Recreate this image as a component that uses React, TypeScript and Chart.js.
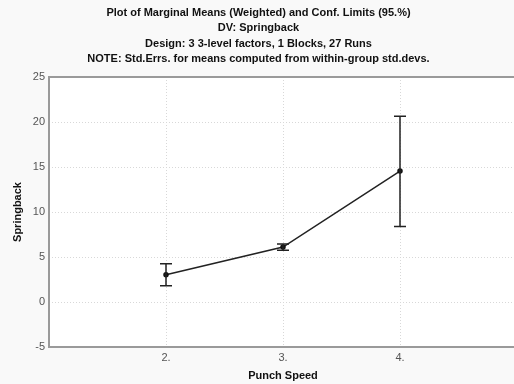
import React, { useEffect, useRef } from "react";
import { Chart, registerables } from "chart.js";

Chart.register(...registerables);

const punchSpeeds = [2, 3, 4];
const tickLabels = ["2.", "3.", "4."];
const means = [3.03, 6.1, 14.55];
const lowerLimits = [1.8, 5.75, 8.4];
const upperLimits = [4.25, 6.45, 20.65];
const titleLines = [
  "Plot of Marginal Means (Weighted) and Conf. Limits (95.%)",
  "DV: Springback",
  "Design: 3 3-level factors, 1 Blocks, 27 Runs",
  "NOTE: Std.Errs. for means computed from within-group std.devs.",
];

const FONT = "'Liberation Sans', Arial, sans-serif";

const framePlugin = {
  id: "frame",
  beforeDraw(chart: any) {
    const { ctx, chartArea, width, height } = chart;
    ctx.save();
    ctx.fillStyle = "#f9f9f9";
    ctx.fillRect(0, 0, width, height);
    ctx.fillStyle = "#ffffff";
    ctx.fillRect(chartArea.left, chartArea.top, chartArea.right - chartArea.left, chartArea.bottom - chartArea.top);
    ctx.restore();
  },
  afterDraw(chart: any) {
    const { ctx, chartArea } = chart;
    ctx.save();
    ctx.strokeStyle = "#9a9a9a";
    ctx.lineWidth = 2;
    ctx.beginPath();
    ctx.moveTo(chartArea.right + 2, chartArea.top);
    ctx.lineTo(chartArea.left, chartArea.top);
    ctx.lineTo(chartArea.left, chartArea.bottom);
    ctx.lineTo(chartArea.right + 2, chartArea.bottom);
    ctx.stroke();
    ctx.restore();
  },
};

const errorBarPlugin = {
  id: "errorBars",
  afterDatasetsDraw(chart: any) {
    const { ctx } = chart;
    const xs = chart.scales.x;
    const ys = chart.scales.y;
    ctx.save();
    ctx.strokeStyle = "#222222";
    ctx.lineWidth = 1.5;
    punchSpeeds.forEach((sp, i) => {
      const x = xs.getPixelForValue(sp);
      const yl = ys.getPixelForValue(lowerLimits[i]);
      const yh = ys.getPixelForValue(upperLimits[i]);
      ctx.beginPath();
      ctx.moveTo(x, yl);
      ctx.lineTo(x, yh);
      ctx.moveTo(x - 6, yl);
      ctx.lineTo(x + 6, yl);
      ctx.moveTo(x - 6, yh);
      ctx.lineTo(x + 6, yh);
      ctx.stroke();
    });
    ctx.restore();
  },
};

export default function App() {
  const ref = useRef<HTMLCanvasElement | null>(null);
  useEffect(() => {
    if (!ref.current) return;
    const chart = new Chart(ref.current, {
      type: "line",
      data: {
        datasets: [
          {
            data: punchSpeeds.map((x, i) => ({ x, y: means[i] })),
            borderColor: "#222222",
            borderWidth: 1.5,
            pointRadius: 2,
            pointBackgroundColor: "#111111",
            pointBorderColor: "#111111",
            tension: 0,
          },
        ],
      },
      options: {
        animation: false,
        responsive: false,
        layout: { padding: { left: 0, right: 9, top: 0, bottom: 0 } },
        plugins: {
          legend: { display: false },
          tooltip: { enabled: false },
          title: {
            display: true,
            text: titleLines,
            color: "#111111",
            font: { family: FONT, size: 11, weight: "bold", lineHeight: "15.5px" },
            padding: { top: 5, bottom: 10 },
          },
        },
        scales: {
          x: {
            type: "linear",
            min: 1,
            max: 5,
            afterBuildTicks: (scale: any) => {
              scale.ticks = punchSpeeds.map((v) => ({ value: v }));
            },
            afterFit: (scale: any) => {
              scale.height = 37;
            },
            ticks: {
              color: "#555555",
              font: { family: FONT, size: 11 },
              padding: 4,
              maxRotation: 0,
              callback: (v: any) => {
                const i = punchSpeeds.indexOf(Number(v));
                return i >= 0 ? tickLabels[i] : "";
              },
            },
            grid: { color: "#d8d8d8", lineWidth: 1, drawTicks: false },
            border: { display: false, dash: [1, 2] },
            title: {
              display: true,
              text: "Punch Speed",
              color: "#111111",
              font: { family: FONT, size: 11, weight: "bold" },
              padding: { top: 0, bottom: 1 },
            },
          },
          y: {
            type: "linear",
            min: -5,
            max: 25,
            afterFit: (scale: any) => {
              scale.width = 49;
            },
            ticks: {
              stepSize: 5,
              color: "#555555",
              font: { family: FONT, size: 11 },
              padding: 4,
            },
            grid: { color: "#d8d8d8", lineWidth: 1, drawTicks: false },
            border: { display: false, dash: [1, 2] },
            title: {
              display: true,
              text: "Springback",
              color: "#111111",
              font: { family: FONT, size: 11, weight: "bold" },
              padding: { top: 11, bottom: 0 },
            },
          },
        },
      },
      plugins: [framePlugin, errorBarPlugin],
    } as any);
    return () => chart.destroy();
  }, []);
  return (
    <div
      style={{
        position: "fixed",
        left: 0,
        top: 0,
        width: 514,
        height: 384,
        overflow: "hidden",
        background: "#f9f9f9",
      }}
    >
      <canvas ref={ref} width={526} height={384} style={{ display: "block", width: 526, height: 384 }} />
    </div>
  );
}
